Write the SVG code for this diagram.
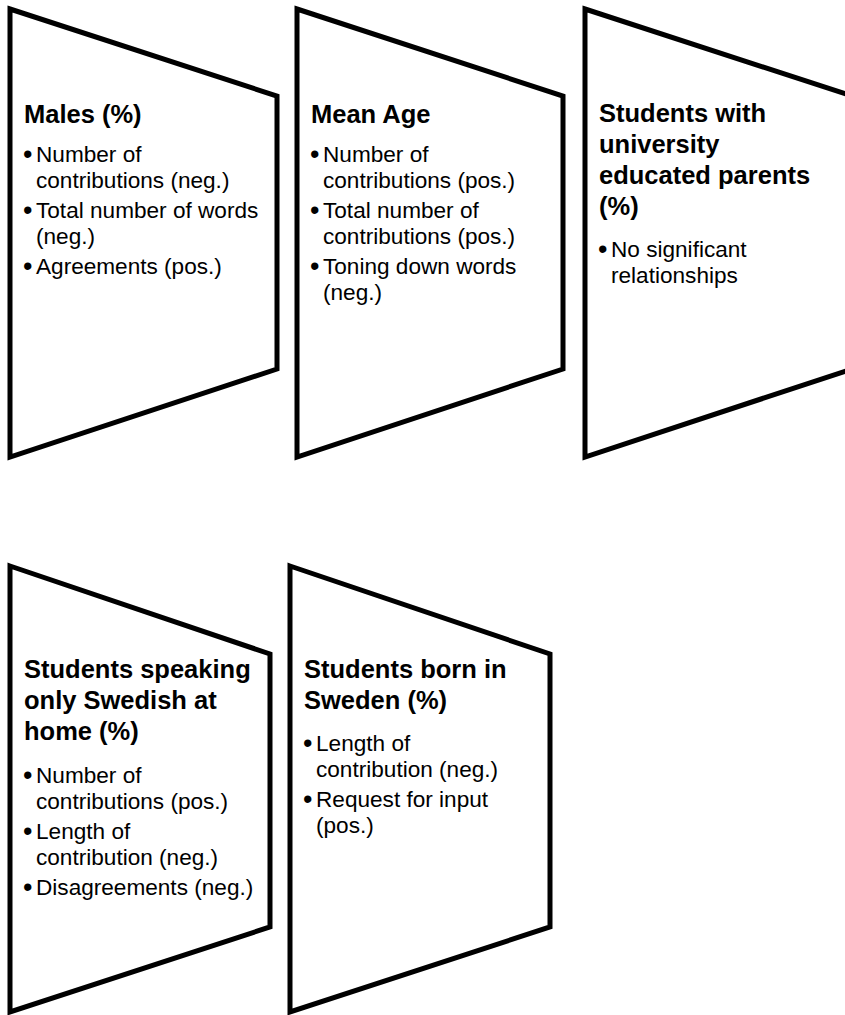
<svg xmlns="http://www.w3.org/2000/svg" width="845" height="1015" viewBox="0 0 845 1015">
<style>
.shape{fill:#fff;stroke:#000;stroke-width:5;stroke-linejoin:miter}
.t{font-family:"Liberation Sans",Arial,sans-serif;font-weight:bold;font-size:25.5px;fill:#000}
.b{font-family:"Liberation Sans",Arial,sans-serif;font-size:22.6px;fill:#000}
.d{font-family:"Liberation Sans",Arial,sans-serif;font-size:27px;fill:#000}
</style>
<rect width="845" height="1015" fill="#fff"/>
<g id="node-males">
<polygon class="shape" points="10,9 277,96 277,369 10,457"/>
<text class="t" x="24" y="123">Males (%)</text>
<text class="d" x="23" y="163">•</text><text class="b" x="36" y="162">Number of</text>
<text class="b" x="36" y="188">contributions (neg.)</text>
<text class="d" x="23" y="219">•</text><text class="b" x="36" y="218">Total number of words</text>
<text class="b" x="36" y="244">(neg.)</text>
<text class="d" x="23" y="275">•</text><text class="b" x="36" y="274">Agreements (pos.)</text>
</g>
<g id="node-mean-age">
<polygon class="shape" points="297,9 563,96 563,369 297,457"/>
<text class="t" x="311" y="123">Mean Age</text>
<text class="d" x="310" y="163">•</text><text class="b" x="323" y="162">Number of</text>
<text class="b" x="323" y="188">contributions (pos.)</text>
<text class="d" x="310" y="219">•</text><text class="b" x="323" y="218">Total number of</text>
<text class="b" x="323" y="244">contributions (pos.)</text>
<text class="d" x="310" y="275">•</text><text class="b" x="323" y="274">Toning down words</text>
<text class="b" x="323" y="300">(neg.)</text>
</g>
<g id="node-university">
<polygon class="shape" points="585,9 852,96 852,369 585,457"/>
<text class="t" x="599" y="122">Students with</text>
<text class="t" x="599" y="153">university</text>
<text class="t" x="599" y="184">educated parents</text>
<text class="t" x="599" y="215">(%)</text>
<text class="d" x="598" y="258">•</text><text class="b" x="611" y="257">No significant</text>
<text class="b" x="611" y="283">relationships</text>
</g>
<g id="node-swedish-home">
<polygon class="shape" points="10,566 270,654 270,927 10,1012"/>
<text class="t" x="24" y="678">Students speaking</text>
<text class="t" x="24" y="709">only Swedish at</text>
<text class="t" x="24" y="740">home (%)</text>
<text class="d" x="23" y="784">•</text><text class="b" x="36" y="783">Number of</text>
<text class="b" x="36" y="809">contributions (pos.)</text>
<text class="d" x="23" y="840">•</text><text class="b" x="36" y="839">Length of</text>
<text class="b" x="36" y="865">contribution (neg.)</text>
<text class="d" x="23" y="896">•</text><text class="b" x="36" y="895">Disagreements (neg.)</text>
</g>
<g id="node-born-sweden">
<polygon class="shape" points="290,566 550,654 550,927 290,1012"/>
<text class="t" x="304" y="678">Students born in</text>
<text class="t" x="304" y="709">Sweden (%)</text>
<text class="d" x="303" y="752">•</text><text class="b" x="316" y="751">Length of</text>
<text class="b" x="316" y="777">contribution (neg.)</text>
<text class="d" x="303" y="808">•</text><text class="b" x="316" y="807">Request for input</text>
<text class="b" x="316" y="833">(pos.)</text>
</g>
<g id="connectors"></g>
</svg>
